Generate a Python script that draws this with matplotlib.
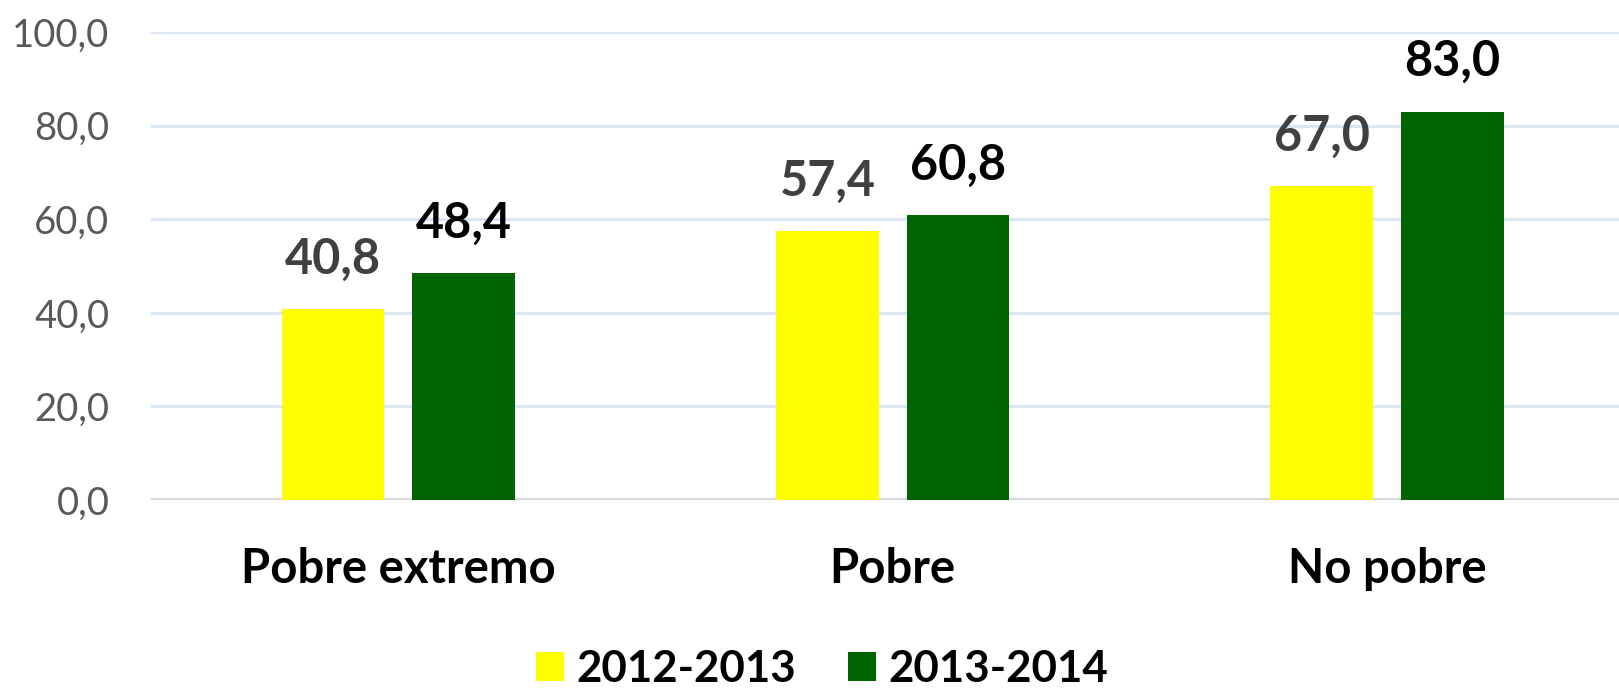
import matplotlib
matplotlib.use("Agg")
import matplotlib.pyplot as plt
from matplotlib.patches import Patch
import numpy as np

plt.rcParams["font.family"] = ["Lato", "DejaVu Sans"]

categories = ["Pobre extremo", "Pobre", "No pobre"]
series_names = ["2012-2013", "2013-2014"]
values_2012_2013 = [40.8, 57.4, 67.0]
values_2013_2014 = [48.4, 60.8, 83.0]
y_ticks = [0, 20, 40, 60, 80, 100]

yellow = "#FFFF00"
green = "#006400"

fig = plt.figure(figsize=(16.19, 6.88), dpi=100)
ax = fig.add_axes([151 / 1619, 1 - 500 / 688, (1619 - 151) / 1619, (500 - 32) / 688])

x = np.arange(len(categories))
w = 0.208
off = 0.132
ax.bar(x - off, values_2012_2013, width=w, color=yellow, zorder=3)
ax.bar(x + off, values_2013_2014, width=w, color=green, zorder=3)

def fmt(v):
    return f"{v:.1f}".replace(".", ",")

for xi, v in zip(x - off, values_2012_2013):
    ax.annotate(fmt(v), (xi, v), xytext=(0, 36), textcoords="offset points",
                ha="center", va="center", fontsize=35, fontweight="bold", color="#404040")
for xi, v in zip(x + off, values_2013_2014):
    ax.annotate(fmt(v), (xi, v), xytext=(0, 36), textcoords="offset points",
                ha="center", va="center", fontsize=35, fontweight="bold", color="#000000")

ax.set_xlim(-0.5, 2.469)
ax.set_ylim(0, 100)
ax.set_yticks(y_ticks)
ax.set_yticklabels([fmt(t) for t in y_ticks], fontsize=27.5, color="#595959")
ax.set_xticks(x)
ax.set_xticklabels(categories, fontsize=34, fontweight="bold", color="#000000")
ax.tick_params(axis="both", length=0)
ax.tick_params(axis="x", pad=34)
ax.tick_params(axis="y", pad=30)

ax.grid(axis="y", color="#DCE6F2", linewidth=2.2, zorder=0)
ax.axhline(0, color="#D9D9D9", linewidth=3, zorder=2)
for s in ax.spines.values():
    s.set_visible(False)

handles = [Patch(facecolor=yellow, edgecolor="none"), Patch(facecolor=green, edgecolor="none")]
fig.legend(handles, series_names, loc="center", bbox_to_anchor=(822 / 1619, 1 - 669 / 688),
           ncol=2, frameon=False, handlelength=0.64, handleheight=0.64,
           handletextpad=0.28, columnspacing=1.2, prop={"weight": "bold", "size": 31.6})

fig.savefig("out.png", dpi=100, facecolor="white")
